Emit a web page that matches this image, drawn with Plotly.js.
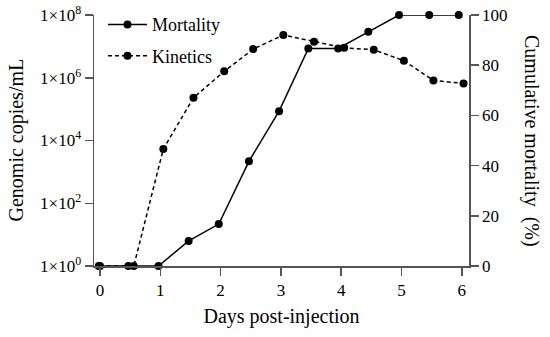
<!DOCTYPE html>
<html>
<head>
<meta charset="utf-8">
<script src="https://cdn.plot.ly/plotly-3.0.1.min.js"></script>
<style>html,body{margin:0;padding:0;background:#fff;}#chart{width:550px;height:337px;}</style>
</head>
<body>
<div id="chart"></div>
<script>
// Data
const mortalityDays = [-0.02, 0.47, 0.97, 1.47, 1.97, 2.47, 2.97, 3.455, 3.95, 4.45, 4.96, 5.46, 5.95];
const mortalityPct = [0, 0, 0, 10, 16.7, 41.7, 61.7, 86.7, 86.7, 93.3, 100, 100, 100];
const kineticsDays = [0.0, 0.56, 1.05, 1.55, 2.06, 2.54, 3.04, 3.55, 4.05, 4.54, 5.04, 5.53, 6.03];
const kineticsCopies = [1, 1, 5.4e3, 2.3e5, 1.6e6, 8.2e6, 2.3e7, 1.4e7, 9e6, 7.8e6, 3.5e6, 8.2e5, 6.6e5];
const xTickVals = [0, 1, 2, 3, 4, 5, 6];
const leftTickVals = [1, 1e2, 1e4, 1e6, 1e8];
const leftTickText = ['1×10<sup>0</sup>', '1×10<sup>2</sup>', '1×10<sup>4</sup>', '1×10<sup>6</sup>', '1×10<sup>8</sup>'];
const rightTickVals = [0, 20, 40, 60, 80, 100];

const FONT = 'Liberation Serif';
const AX = '#555555';

const traces = [
  {
    x: mortalityDays, y: mortalityPct, yaxis: 'y2', name: 'Mortality',
    legendgroup: 'm', mode: 'lines+markers',
    line: {color: '#000', width: 1.5},
    marker: {color: '#000', size: 8},
    cliponaxis: false
  },
  {
    x: kineticsDays, y: kineticsCopies, yaxis: 'y', name: 'Kinetics',
    legendgroup: 'k', mode: 'lines+markers',
    line: {color: '#000', width: 1.5, dash: '4px,3px'},
    marker: {color: '#000', size: 8},
    cliponaxis: false
  }
];

const layout = {
  width: 550, height: 337,
  margin: {l: 94, r: 81, t: 15, b: 71, autoexpand: false},
  paper_bgcolor: '#fff', plot_bgcolor: '#fff',
  font: {family: FONT, color: '#000', size: 17},
  showlegend: true,
  legend: {
    x: 0.024, y: 1.035, xanchor: 'left', yanchor: 'top',
    font: {family: FONT, size: 18, color: '#000'},
    bgcolor: 'rgba(0,0,0,0)', traceorder: 'grouped', tracegroupgap: 5,
    itemwidth: 39
  },
  xaxis: {
    range: [-0.1, 6.12], tickvals: xTickVals,
    showgrid: false, zeroline: false, showline: true, linecolor: AX, linewidth: 1.5,
    ticks: 'outside', ticklen: 8, tickwidth: 1.5, tickcolor: AX,
    tickfont: {family: FONT, size: 17, color: '#000'},
    title: {text: 'Days post-injection', font: {family: FONT, size: 20, color: '#000'}, standoff: 10}
  },
  yaxis: {
    type: 'log', range: [0, 8], tickvals: leftTickVals, ticktext: leftTickText,
    showgrid: false, zeroline: false, showline: true, linecolor: AX, linewidth: 1.5,
    ticks: 'outside', ticklen: 8, tickwidth: 1.5, tickcolor: AX,
    tickfont: {family: FONT, size: 17, color: '#000'}
  },
  yaxis2: {
    overlaying: 'y', side: 'right', anchor: 'x', range: [0, 100], tickvals: rightTickVals,
    showgrid: false, zeroline: false, showline: true, linecolor: AX, linewidth: 1.5,
    ticks: 'outside', ticklen: 8, tickwidth: 1.5, tickcolor: AX,
    tickfont: {family: FONT, size: 17, color: '#000'}
  },
  annotations: [
    {text: 'Genomic copies/mL', xref: 'paper', yref: 'paper', x: (16 - 94) / 375, y: (266 - 140.5) / 251,
     xanchor: 'center', yanchor: 'middle', showarrow: false, textangle: -90,
     font: {family: FONT, size: 20, color: '#000'}},
    {text: 'Cumulative mortality\u00a0\u00a0(%)', xref: 'paper', yref: 'paper', x: (532 - 94) / 375, y: (266 - 141) / 251,
     xanchor: 'center', yanchor: 'middle', showarrow: false, textangle: 90,
     font: {family: FONT, size: 20, color: '#000'}}
  ]
};

Plotly.newPlot('chart', traces, layout, {displayModeBar: false, staticPlot: true});
</script>
</body>
</html>
